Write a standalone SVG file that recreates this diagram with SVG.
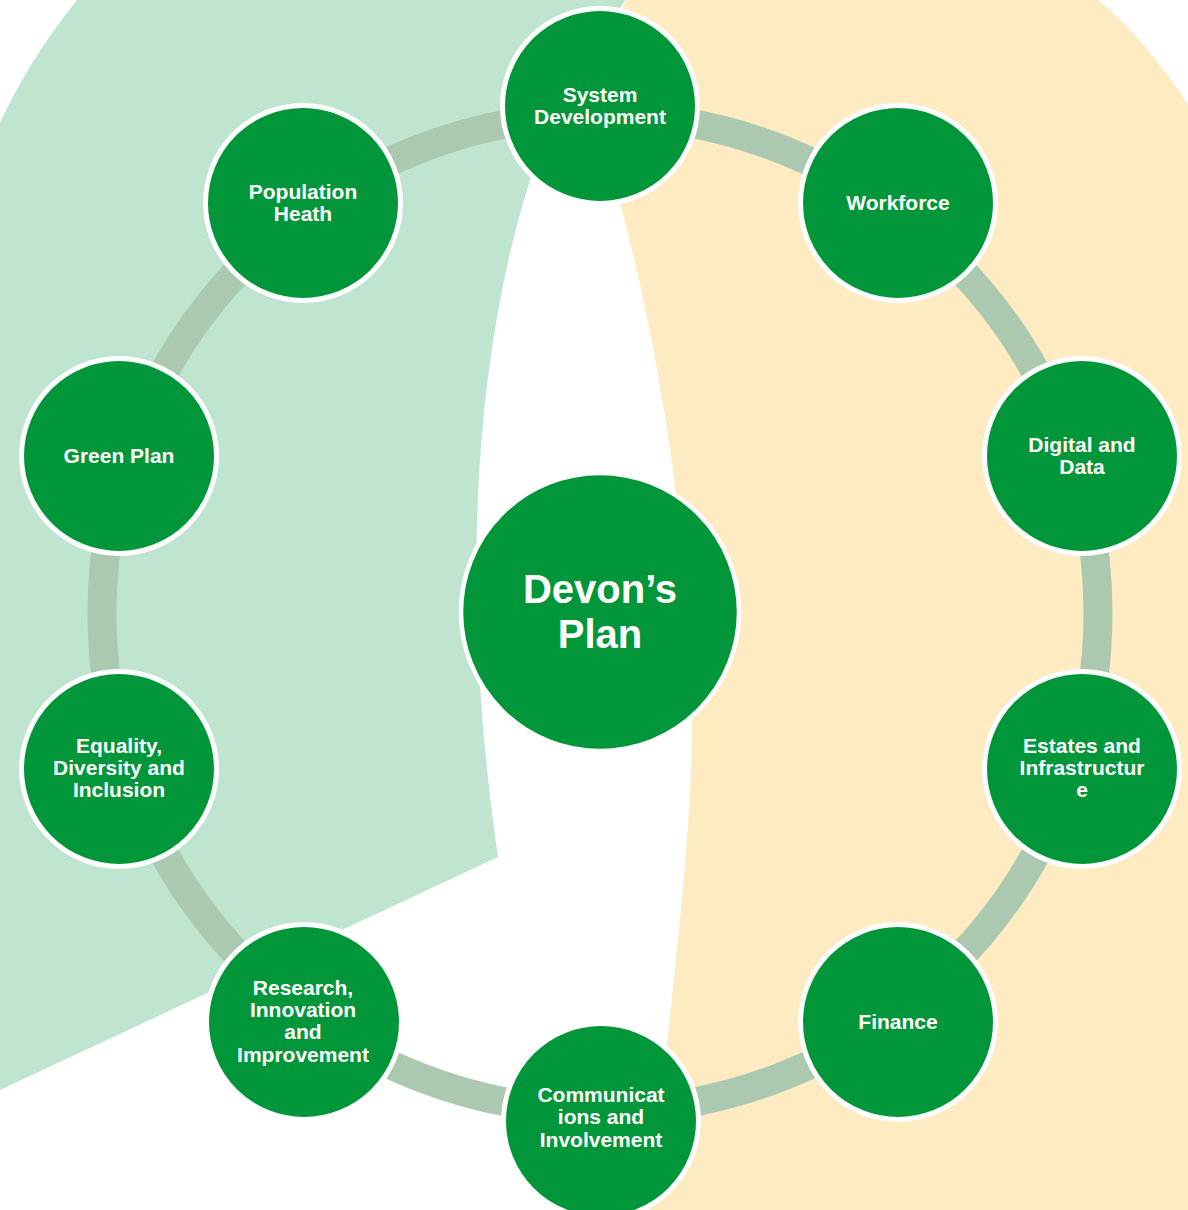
<svg xmlns="http://www.w3.org/2000/svg" width="1188" height="1210" viewBox="0 0 1188 1210">
  <style>
    .bg-green { fill: #bfe4d0; }
    .bg-yellow { fill: #feebc1; }
    .ring { fill: none; stroke: #abc9b0; stroke-width: 29; }
    .sat { fill: #02963a; stroke: #ffffff; stroke-width: 5; }
    .hub { fill: #02963a; stroke: #ffffff; stroke-width: 4.5; }
    .lbl { font-family: "Liberation Sans", Arial, sans-serif; font-weight: bold; font-size: 21px; fill: #ffffff; text-anchor: middle; }
    .hub-lbl { font-family: "Liberation Sans", Arial, sans-serif; font-weight: bold; font-size: 40px; fill: #ffffff; text-anchor: middle; }
  </style>
  <rect x="0" y="0" width="1188" height="1210" fill="#ffffff"/>
  <g id="background">
    <path class="bg-yellow" d="M625,0 L1099,0 Q1150,45 1188,105 L1188,1210 L650,1210 C670,1000 692,850 692,720 C692,560 660,330 605,150 Z"/>
    <path class="bg-green" d="M0,123 Q30,58 77,0 L625,0 L540,150 C480,320 455,560 498,857 L0,1090 Z"/>
  </g>
  <g id="connectors">
    <circle class="ring" cx="600" cy="613" r="498"/>
  </g>
  <g id="hub">
    <circle class="hub" cx="600" cy="612" r="139"/>
    <text class="hub-lbl" x="600" y="603">Devon’s</text>
    <text class="hub-lbl" x="600" y="648">Plan</text>
  </g>
  <g id="system-development">
    <circle class="sat" cx="600" cy="106" r="97.5"/>
    <text class="lbl" x="600" y="101.5">System</text>
    <text class="lbl" x="600" y="123.5">Development</text>
  </g>
  <g id="workforce">
    <circle class="sat" cx="898" cy="203" r="97.5"/>
    <text class="lbl" x="898" y="210">Workforce</text>
  </g>
  <g id="digital-and-data">
    <circle class="sat" cx="1082" cy="456" r="97.5"/>
    <text class="lbl" x="1082" y="452">Digital and</text>
    <text class="lbl" x="1082" y="474">Data</text>
  </g>
  <g id="estates-and-infrastructure">
    <circle class="sat" cx="1082" cy="769" r="97.5"/>
    <text class="lbl" x="1082" y="752.5">Estates and</text>
    <text class="lbl" x="1082" y="774.5">Infrastructur</text>
    <text class="lbl" x="1082" y="796.5">e</text>
  </g>
  <g id="finance">
    <circle class="sat" cx="898" cy="1022" r="97.5"/>
    <text class="lbl" x="898" y="1029">Finance</text>
  </g>
  <g id="communications-and-involvement">
    <circle class="sat" cx="601" cy="1121" r="97.5"/>
    <text class="lbl" x="601" y="1102">Communicat</text>
    <text class="lbl" x="601" y="1124">ions and</text>
    <text class="lbl" x="601" y="1146.5">Involvement</text>
  </g>
  <g id="research-innovation-and-improvement">
    <circle class="sat" cx="304" cy="1022" r="97.5"/>
    <text class="lbl" x="303" y="995">Research,</text>
    <text class="lbl" x="303" y="1017">Innovation</text>
    <text class="lbl" x="303" y="1039">and</text>
    <text class="lbl" x="303" y="1061.5">Improvement</text>
  </g>
  <g id="equality-diversity-and-inclusion">
    <circle class="sat" cx="119" cy="769" r="97.5"/>
    <text class="lbl" x="119" y="752.5">Equality,</text>
    <text class="lbl" x="119" y="774.5">Diversity and</text>
    <text class="lbl" x="119" y="796.5">Inclusion</text>
  </g>
  <g id="green-plan">
    <circle class="sat" cx="119" cy="456" r="97.5"/>
    <text class="lbl" x="119" y="463">Green Plan</text>
  </g>
  <g id="population-heath">
    <circle class="sat" cx="303" cy="203" r="97.5"/>
    <text class="lbl" x="303" y="198.5">Population</text>
    <text class="lbl" x="303" y="220.5">Heath</text>
  </g>
</svg>
